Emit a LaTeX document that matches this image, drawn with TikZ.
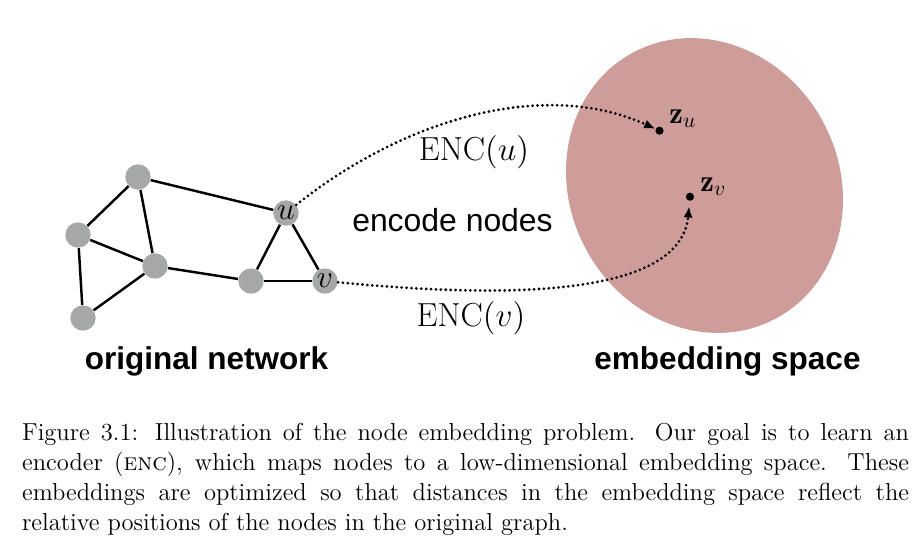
\RequirePackage{fix-cm}
\documentclass[tikz,border=0pt]{standalone}
\usepackage{fontspec}
\newfontfamily\hsans{Liberation Sans}
\usetikzlibrary{arrows.meta}
\definecolor{nodegray}{RGB}{165,168,167}
\definecolor{embpink}{RGB}{206,157,153}
\begin{document}
\begin{tikzpicture}[x=0.4889pt,y=-0.4889pt,
  gnode/.style={circle,fill=nodegray,minimum size=12.4pt,inner sep=0pt,font=\fontsize{15.5}{17}\selectfont},
  edge/.style={line width=1.2pt},
  encarrow/.style={line width=1.5pt,dash pattern=on 0pt off 2.4pt,line cap=round,-{Latex[length=5.5pt,width=4.5pt]}},
  edot/.style={circle,fill=black,minimum size=4pt,inner sep=0pt},
  mathlab/.style={inner sep=0pt,font=\fontsize{15}{17}\selectfont},
  heading/.style={inner sep=0pt,anchor=base,font=\hsans\bfseries\fontsize{15.4}{18}\selectfont},
]
\useasboundingbox (0,0) rectangle (917,556);
% embedding space
\fill[embpink, rotate around={28.5:(704.5,185.5)}] (704.5,185.5) ellipse [x radius=65.8pt, y radius=73.8pt];
% graph nodes
\node[gnode] (a) at (138,177) {};
\node[gnode] (b) at (78,235) {};
\node[gnode] (c) at (155,266) {};
\node[gnode] (d) at (83,318) {};
\node[gnode] (e) at (251,281) {};
\node[gnode] (u) at (286,213) {$u$};
\node[gnode] (v) at (325,281) {$v$};
\draw[edge] (a) -- (b);
\draw[edge] (a) -- (c);
\draw[edge] (a) -- (u);
\draw[edge] (b) -- (c);
\draw[edge] (b) -- (d);
\draw[edge] (c) -- (d);
\draw[edge] (c) -- (e);
\draw[edge] (e) -- (u);
\draw[edge] (e) -- (v);
\draw[edge] (u) -- (v);
% embedding points
\node[edot] (zu) at (659.5,130.7) {};
\node[edot] (zv) at (690,196.7) {};
\node[mathlab,anchor=base west] (zul) at (669,123.3) {$\mathbf{z}_u$};
\node[mathlab,anchor=base west] (zvl) at (700,191) {$\mathbf{z}_v$};
% encoder arrows
\draw[encarrow] (u) .. controls (404,119) and (544,78) .. (zu);
\draw[encarrow,shorten >=2.5pt] (v) .. controls (470,295) and (680,305) .. (zv);
\node[mathlab,anchor=base,font=\fontsize{16.3}{19}\selectfont] (encu) at (474,160) {$\mathrm{ENC}(u)$};
\node[mathlab,anchor=base,font=\fontsize{16.3}{19}\selectfont] (encv) at (471,326) {$\mathrm{ENC}(v)$};
\node[inner sep=0pt,anchor=base,font=\hsans\fontsize{15.6}{18}\selectfont] (encn) at (452.5,231) {encode nodes};
% headings
\node[heading] (orig) at (206.5,369) {original network};
\node[heading] (emb) at (727.5,369) {embedding space};
% caption
\node[anchor=base west,inner sep=0pt,text width=433.62pt,align=justify,font=\fontsize{12}{14.67}\selectfont] (cap) at (21.7,440.7) {Figure 3.1: Illustration of the node embedding problem. Our goal is to learn an\linebreak encoder (\textsc{enc}), which maps nodes to a low-dimensional embedding space. These\linebreak embeddings are optimized so that distances in the embedding space reflect the\linebreak relative positions of the nodes in the original graph.};
\end{tikzpicture}
\end{document}
